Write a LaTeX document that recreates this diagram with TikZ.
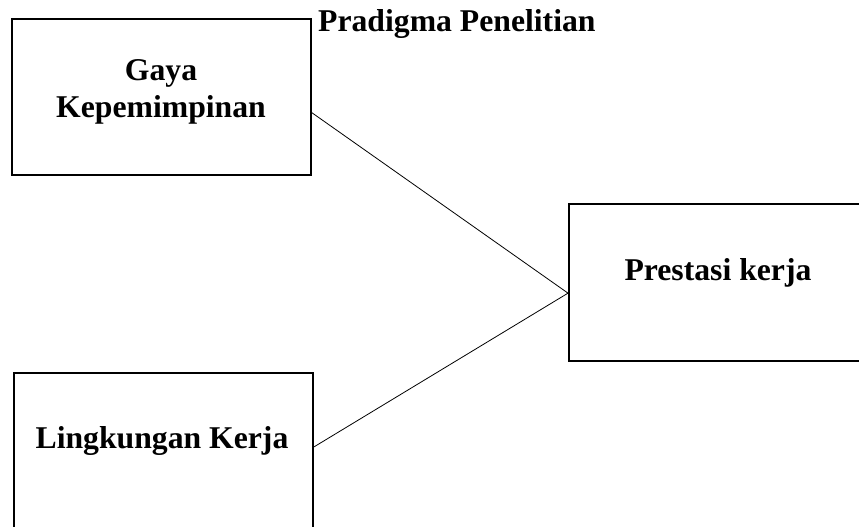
\documentclass[tikz,border=0pt]{standalone}
\usepackage{fontspec}
\setmainfont{Liberation Serif}
\usetikzlibrary{calc}
\begin{document}
\begin{tikzpicture}[x=1pt,y=1pt,
  boxnode/.style={draw=black,line width=2pt,minimum width=299pt,minimum height=156pt,inner sep=0pt,anchor=center},
  txt/.style={font=\bfseries\fontsize{31.7}{37}\selectfont,align=center,inner sep=0pt},
  link/.style={draw=black,line width=0.8pt}]
\useasboundingbox (0,0) rectangle (859,527);
\clip (0,0) rectangle (859,527);
\fill[white] (0,0) rectangle (859,527);
\node[boxnode] (g) at (161.5,430) {};
\node[boxnode,minimum width=298pt,minimum height=157pt] (p) at (718,244.5) {};
\node[boxnode] (l) at (163.5,76) {};
\node[txt] (gt) at (161,435) {Gaya\\Kepemimpinan};
\node[txt] (pt) at (718,254) {Prestasi kerja};
\node[txt] (lt) at (162,86) {Lingkungan Kerja};
\node[txt,anchor=base west] (title) at (318,495) {Pradigma Penelitian};
\coordinate (ga) at ($(g.north east)!0.60!(g.south east)$);
\coordinate (pa) at ($(p.north west)!0.567!(p.south west)$);
\coordinate (la) at ($(l.north east)!0.474!(l.south east)$);
\draw[link] (ga) -- (pa);
\draw[link] (la) -- (pa);
\end{tikzpicture}
\end{document}
